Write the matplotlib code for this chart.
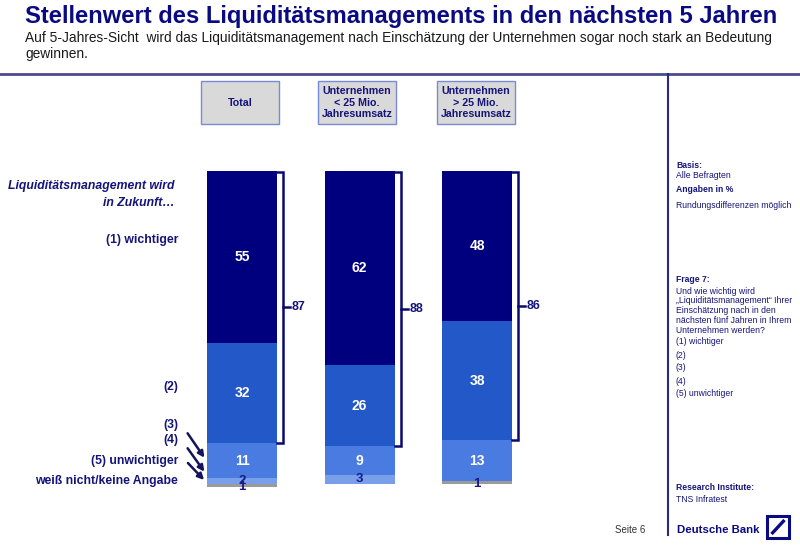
import matplotlib
matplotlib.use("Agg")
import matplotlib.pyplot as plt
from matplotlib.patches import Rectangle
import numpy as np

plt.rcParams['font.family'] = ['Liberation Sans', 'DejaVu Sans']

# ---- data ----
groups = ["Total", "Unternehmen\n< 25 Mio.\nJahresumsatz", "Unternehmen\n> 25 Mio.\nJahresumsatz"]
seg_names = ["(1) wichtiger", "(2)", "(3)", "(4)", "(5) unwichtiger", "weiß nicht/keine Angabe"]
v1 = [55, 62, 48]
v2 = [32, 26, 38]
v3 = [11, 9, 13]
v4 = [2, 3, 0]
v5 = [0, 0, 0]
v6 = [1, 0, 1]
top2 = [87, 88, 86]
seg_colors = ["#00007F", "#2358C8", "#4A7BE0", "#7A9FEA", "#9A9A9A", "#9A9A9A"]
label_colors = ["white", "white", "white", "#1A1A8C", "#1A1A8C", "#1A1A8C"]

navy = "#14147A"

W, H = 800, 548
fig = plt.figure(figsize=(W / 100, H / 100), dpi=100)

# background axes in pixel coords
bg = fig.add_axes([0, 0, 1, 1])
bg.set_xlim(0, W)
bg.set_ylim(H, 0)
bg.axis("off")

# title & subtitle
bg.text(25, 17, "Stellenwert des Liquiditätsmanagements in den nächsten 5 Jahren",
        fontsize=17.1, fontweight="bold", color="#0A0A82", va="center", ha="left")
bg.text(25, 38, "Auf 5-Jahres-Sicht  wird das Liquiditätsmanagement nach Einschätzung der Unternehmen sogar noch stark an Bedeutung",
        fontsize=9.9, color="#1a1a1a", va="center", ha="left")
bg.text(25, 54, "gewinnen.", fontsize=9.9, color="#1a1a1a", va="center", ha="left")

# separator lines
bg.plot([0, W], [74, 74], color="#4B4B8C", lw=2)
bg.plot([668, 668], [74, 535], color="#2A2A80", lw=1.5)

# header boxes
box_x = [201, 318, 437]
for i, g in enumerate(groups):
    bg.add_patch(Rectangle((box_x[i], 81), 78, 43, facecolor="#D9D9D9", edgecolor="#7A8AD6", lw=1))
    bg.text(box_x[i] + 39, 102.5, g, fontsize=7.7, fontweight="bold", color=navy,
            ha="center", va="center", linespacing=1.15)

# left labels
bg.text(175, 186, "Liquiditätsmanagement wird", fontsize=8.8, fontweight="bold", style="italic",
        color=navy, ha="right", va="center")
bg.text(175, 203, "in Zukunft…", fontsize=8.8, fontweight="bold", style="italic",
        color=navy, ha="right", va="center")
left_y = [240, 387, 425, 440, 461, 481]
for name, y in zip(seg_names, left_y):
    bg.text(178, y, name, fontsize=8.8, fontweight="bold", color=navy, ha="right", va="center")

# arrows
for (x0, y0, x1, y1) in [(186, 431, 206, 460), (186, 446, 206, 474), (186, 461, 206, 482)]:
    bg.annotate("", xy=(x1, y1), xytext=(x0, y0),
                arrowprops=dict(arrowstyle="-|>", color="#14145E", lw=1.8, mutation_scale=9))

# right panel
rx = 676
fs = 6.2
bg.text(rx, 165, "Basis:", fontsize=fs, fontweight="bold", color=navy, va="center")
bg.text(rx, 175, "Alle Befragten", fontsize=fs, color=navy, va="center")
bg.text(rx, 189, "Angaben in %", fontsize=fs, fontweight="bold", color=navy, va="center")
bg.text(rx, 206, "Rundungsdifferenzen möglich", fontsize=fs, color=navy, va="center")
bg.text(rx, 280, "Frage 7:", fontsize=fs, fontweight="bold", color=navy, va="center")
q_lines = ["Und wie wichtig wird", "„Liquiditätsmanagement“ Ihrer", "Einschätzung nach in den",
           "nächsten fünf Jahren in Ihrem", "Unternehmen werden?"]
for k, t in enumerate(q_lines):
    bg.text(rx, 291 + 9.8 * k, t, fontsize=fs, color=navy, va="center")
for k, t in enumerate(["(1) wichtiger", "(2)", "(3)", "(4)", "(5) unwichtiger"]):
    bg.text(rx, 342 + 13 * k, t, fontsize=fs, color=navy, va="center")

# footer
bg.text(rx, 488, "Research Institute:", fontsize=fs, fontweight="bold", color=navy, va="center")
bg.text(rx, 499, "TNS Infratest", fontsize=fs, color=navy, va="center")
bg.text(615, 530, "Seite 6", fontsize=7, color="#333333", va="center")
bg.text(677, 530, "Deutsche Bank", fontsize=8.2, fontweight="bold", color="#0A0A82", va="center")
bg.add_patch(Rectangle((767, 516), 22, 22, facecolor="white", edgecolor="#0A0A82", lw=2.2))
bg.plot([771.5, 784.5], [534, 520], color="#0A0A82", lw=2.4, solid_capstyle="butt")

# ---- bar axes ----
px_per_unit = 3.13
top_px = 171
bot_px = top_px + 100 * px_per_unit
left_px = 242 - 117.5
right_px = left_px + 4 * 117.5
ax = fig.add_axes([left_px / W, 1 - bot_px / H, (right_px - left_px) / W, (bot_px - top_px) / H])
ax.set_xlim(-1, 3)
ax.set_ylim(100, 0)
ax.axis("off")
ax.patch.set_alpha(0)

x = np.arange(len(groups))
bw = 70 / 117.5
series = [v1, v2, v3, v4, v5, v6]
bottom = np.zeros(len(groups))
for s, (vals, c, lc) in enumerate(zip(series, seg_colors, label_colors)):
    vals = np.array(vals, dtype=float)
    ax.bar(x, vals, bottom=bottom, width=bw, color=c, edgecolor="none", clip_on=False)
    for i in range(len(groups)):
        if vals[i] > 0:
            yc = bottom[i] + vals[i] / 2
            if s == 5:
                yc = bottom[i] + vals[i]
            ax.text(x[i], yc, f"{int(vals[i])}", color=lc, fontsize=10 if s < 3 else 9.5,
                    fontweight="bold", ha="center", va="center", clip_on=False)
    bottom += vals

# brackets
u = 1 / 117.5  # data units per px in x
for i in range(len(groups)):
    xr = x[i] + bw / 2
    xb = xr + 6 * u
    yb = v1[i] + v2[i]
    ax.plot([xr, xb, xb, xr], [0.3, 0.3, yb, yb], color="#0A0A6E", lw=1.8, clip_on=False,
            solid_joinstyle="miter")
    ym = yb / 2
    ax.plot([xb, xb + 7 * u], [ym, ym], color="#0A0A6E", lw=1.8, clip_on=False)
    ax.text(xb + 9 * u, ym, str(top2[i]), color=navy, fontsize=9, fontweight="bold",
            ha="left", va="center")

fig.savefig("out.png", dpi=100)
